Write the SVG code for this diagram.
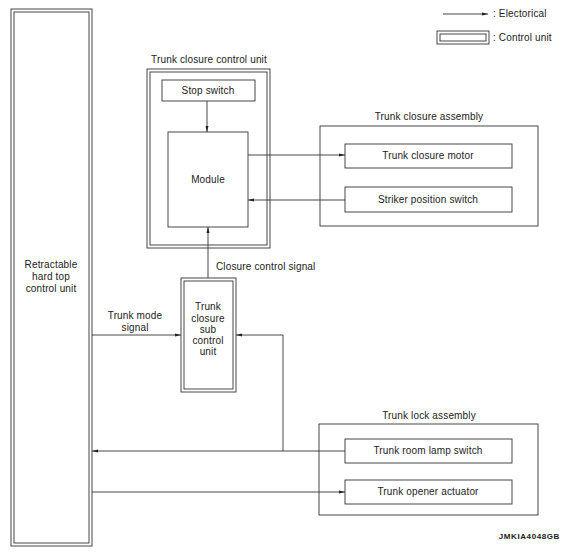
<svg xmlns="http://www.w3.org/2000/svg" width="565" height="558" viewBox="0 0 565 558">
<defs>
<style>
text{font-family:"Liberation Sans",Arial,sans-serif;font-size:10px;letter-spacing:0.15px;fill:#222;text-anchor:middle;dominant-baseline:middle}
.box{fill:#fff;stroke:#333;stroke-width:0.9}
.cu{fill:none;stroke:#333;stroke-width:0.9}
.ln{fill:none;stroke:#333;stroke-width:0.9}
.arr{marker-end:url(#ah)}
.code{font-size:8px;letter-spacing:0.6px;font-weight:bold;text-anchor:end}
</style>
<marker id="ah" markerWidth="6" markerHeight="4" refX="6" refY="2" orient="auto" markerUnits="userSpaceOnUse">
<path d="M0,0.5 L6,2 L0,3.5 Z" fill="#222"/>
</marker>
</defs>
<rect width="565" height="558" fill="#fff"/>

<g id="legend">
<line class="ln arr" x1="443" y1="14" x2="488" y2="14"/>
<text x="493" y="14" style="text-anchor:start">: Electorical</text>
<rect class="cu" x="437" y="31" width="52" height="13"/>
<rect class="cu" x="440" y="34" width="46" height="7"/>
<text x="493" y="38" style="text-anchor:start">: Control unit</text>
</g>

<g id="retractable-hard-top-control-unit">
<rect class="box" x="11" y="9" width="81" height="537"/>
<rect class="cu" x="14" y="12" width="75" height="531"/>
<text x="51" y="265">Retractable</text>
<text x="51" y="277">hard top</text>
<text x="51" y="289">control unit</text>
</g>

<g id="trunk-closure-control-unit">
<text x="209" y="60">Trunk closure control unit</text>
<rect class="box" x="147" y="69" width="123" height="179"/>
<rect class="cu" x="150" y="72" width="117" height="173"/>
</g>

<g id="stop-switch">
<rect class="box" x="162" y="80" width="93" height="21"/>
<text x="208" y="91">Stop switch</text>
</g>

<g id="module">
<rect class="box" x="168" y="132" width="80" height="95"/>
<text x="208" y="180">Module</text>
</g>

<g id="trunk-closure-assembly">
<text x="429" y="117">Trunk closure assembly</text>
<rect class="box" x="320" y="126" width="218" height="100"/>
</g>

<g id="trunk-closure-motor">
<rect class="box" x="345" y="144" width="167" height="24"/>
<text x="428" y="156">Trunk closure motor</text>
</g>

<g id="striker-position-switch">
<rect class="box" x="345" y="187" width="167" height="25"/>
<text x="428" y="200">Striker position switch</text>
</g>

<g id="trunk-closure-sub-control-unit">
<rect class="box" x="181" y="278" width="55" height="114"/>
<rect class="cu" x="184" y="281" width="49" height="108"/>
<text x="208" y="307">Trunk</text>
<text x="208" y="319">closure</text>
<text x="208" y="330">sub</text>
<text x="208" y="341">control</text>
<text x="208" y="352">unit</text>
</g>

<g id="trunk-lock-assembly">
<text x="429" y="416">Trunk lock assembly</text>
<rect class="box" x="319" y="424" width="219" height="91"/>
</g>

<g id="trunk-room-lamp-switch">
<rect class="box" x="345" y="439" width="167" height="24"/>
<text x="428" y="451">Trunk room lamp switch</text>
</g>

<g id="trunk-opener-actuator">
<rect class="box" x="345" y="480" width="167" height="24"/>
<text x="428" y="492">Trunk opener actuator</text>
</g>

<g id="connectors">
<line class="ln arr" x1="207" y1="101" x2="207" y2="132"/>
<line class="ln arr" x1="248" y1="155" x2="345" y2="155"/>
<line class="ln arr" x1="345" y1="200" x2="248" y2="200"/>
<line class="ln arr" x1="208" y1="278" x2="208" y2="227"/>
<text x="216" y="267" style="text-anchor:start">Closure control signal</text>
<line class="ln arr" x1="92" y1="335" x2="181" y2="335"/>
<text x="135" y="316">Trunk mode</text>
<text x="135" y="328">signal</text>
<polyline class="ln arr" points="345,451 283,451 283,335 236,335"/>
<line class="ln arr" x1="283" y1="451" x2="92" y2="451"/>
<line class="ln arr" x1="92" y1="492" x2="345" y2="492"/>
</g>

<text class="code" x="560" y="537">JMKIA4048GB</text>
</svg>
